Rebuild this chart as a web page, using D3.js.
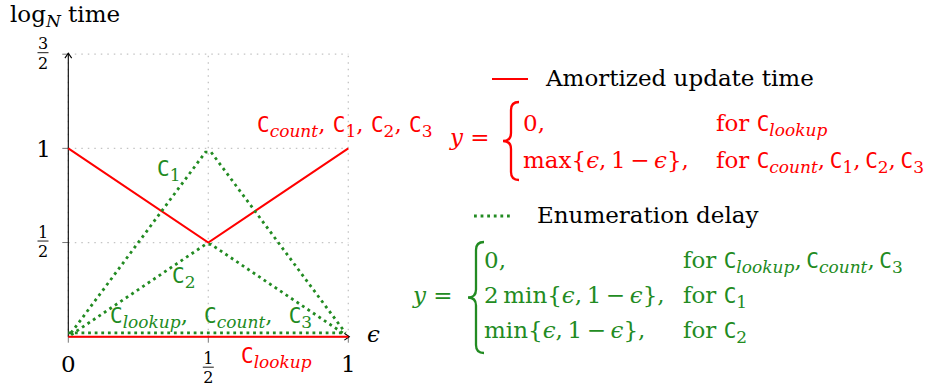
<!DOCTYPE html>
<html>
<head>
<meta charset="utf-8">
<script src="https://cdn.jsdelivr.net/npm/d3@7"></script>
<style>
  body { margin: 0; background: #fff; }
  text { font-family: "DejaVu Serif", serif; font-size: 23px; white-space: pre; }
</style>
</head>
<body>
<svg id="chart" width="941" height="392"></svg>
<script>
// values
const epsUpdate = [0, 0.5, 1];
const updateCount = [1, 0.5, 1];      // C_count, C1, C2, C3
const updateLookup = [0, 0, 0];       // C_lookup
const epsDelay = [0.01, 0.49, 0.51, 0.99];
const delayC1 = [0.02, 0.98, 0.98, 0.02];
const delayC2 = [0.01, 0.49, 0.49, 0.01];
const epsZero = [0, 0.99];
const delayZero = [0.02, 0.02];       // C_lookup, C_count, C3

const gridX = [0, 0.5, 1];
const gridY = [0.5, 1, 1.5];
const xTickLabels = [["0"], ["1", "2"], ["1"]];   // at 0, 1/2, 1
const yTickLabels = [["1", "2"], ["1"], ["3", "2"]]; // at 1/2, 1, 3/2

const updateClasses = ["C_{count}", "C_1", "C_2", "C_3"];
const zeroDelayClasses = ["C_{lookup}", "C_{count}", "C_3"];

const red = "#ff0000", green = "#228b22";
const mono = "'DejaVu Sans Mono', monospace";
const TH = "\u2009"; // thin space

const svg = d3.select("#chart");
const x = d3.scaleLinear().domain([0, 1]).range([68.3, 348.3]);
const y = d3.scaleLinear().domain([0, 1.5]).range([336.7, 54.2]);

// grid
svg.append("g").selectAll("line").data(gridX).join("line")
    .attr("x1", d => x(d)).attr("x2", d => x(d))
    .attr("y1", y(0)).attr("y2", y(1.5))
    .attr("stroke", "#c4c4c4").attr("stroke-width", 1.3).attr("stroke-dasharray", "1.5 5");
svg.append("g").selectAll("line").data(gridY).join("line")
    .attr("x1", x(0)).attr("x2", x(1))
    .attr("y1", d => y(d)).attr("y2", d => y(d))
    .attr("stroke", "#c4c4c4").attr("stroke-width", 1.3).attr("stroke-dasharray", "1.5 5");

// ticks
svg.append("g").selectAll("line").data(gridY).join("line")
    .attr("x1", x(0) - 6).attr("x2", x(0))
    .attr("y1", d => y(d)).attr("y2", d => y(d))
    .attr("stroke", "#777").attr("stroke-width", 1);
svg.append("g").selectAll("line").data([0, 0.5, 1]).join("line")
    .attr("x1", d => x(d)).attr("x2", d => x(d))
    .attr("y1", y(0)).attr("y2", y(0) + 6)
    .attr("stroke", "#777").attr("stroke-width", 1);

// axes with open arrow heads
function arrow(x1, y1, x2, y2) {
    svg.append("line").attr("x1", x1).attr("y1", y1).attr("x2", x2).attr("y2", y2)
        .attr("stroke", "#000").attr("stroke-width", 1.1);
    const a = Math.atan2(y2 - y1, x2 - x1), L = 6, w = 0.6;
    svg.append("path")
        .attr("d", `M${x2 - L * Math.cos(a - w)},${y2 - L * Math.sin(a - w)} L${x2},${y2} L${x2 - L * Math.cos(a + w)},${y2 - L * Math.sin(a + w)}`)
        .attr("fill", "none").attr("stroke", "#000").attr("stroke-width", 1.1);
}
arrow(x(0), y(0), x(1) + 1, y(0));
arrow(x(0), y(0), x(0), y(1.5) - 1);

// series
const line = d3.line();
function plot(xs, ys, color, dotted) {
    const p = svg.append("path")
        .attr("d", line(xs.map((v, i) => [x(v), y(ys[i])])))
        .attr("fill", "none").attr("stroke", color);
    if (dotted) p.attr("stroke-width", 2.8).attr("stroke-dasharray", "2.8 3.8");
    else p.attr("stroke-width", 2);
}
plot(epsUpdate, updateLookup, red, false);
plot(epsUpdate, updateCount, red, false);
plot(epsZero, delayZero, green, true);
plot(epsDelay, delayC1, green, true);
plot(epsDelay, delayC2, green, true);

// text with C_{sub} and $italic$ pieces
function rich(px, py, str, color, anchor) {
    const t = svg.append("text").attr("x", px).attr("y", py).attr("fill", color);
    if (anchor) t.attr("text-anchor", anchor);
    let shifted = false;
    str.split(/(C_\{\w+\}|C_\d|\$[^$]+\$|_\{\w+\})/).filter(s => s).forEach(s => {
        let pieces;
        if (s.startsWith("C_")) {
            const sub = s.replace(/^C_\{?/, "").replace("}", "");
            pieces = [["C", "tt"], [sub, /\d/.test(sub) ? "sub" : "subit"]];
        } else if (s.startsWith("_{")) {
            pieces = [[s.slice(2, -1), "subit"]];
        } else if (s.startsWith("$")) {
            pieces = [[s.slice(1, -1), "it"]];
        } else pieces = [[s, "rm"]];
        pieces.forEach(([txt, k]) => {
            const ts = t.append("tspan").text(txt);
            if (k === "tt") ts.style("font-family", mono).style("font-size", "21px");
            if (k === "it" || k === "subit") ts.style("font-style", "italic");
            if (k === "sub" || k === "subit") {
                ts.style("font-size", "17px");
                if (!shifted) { ts.attr("dy", 4.5); shifted = true; }
            } else if (shifted) { ts.attr("dy", -4.5); shifted = false; }
        });
    });
    return t;
}

function frac(cx, bar, num, den) {
    svg.append("line").attr("x1", cx - 5.5).attr("x2", cx + 5.5).attr("y1", bar).attr("y2", bar)
        .attr("stroke", "#000").attr("stroke-width", 0.9);
    svg.append("text").attr("x", cx).attr("y", bar - 3.5).attr("text-anchor", "middle")
        .style("font-size", "16px").text(num);
    svg.append("text").attr("x", cx).attr("y", bar + 16).attr("text-anchor", "middle")
        .style("font-size", "16px").text(den);
}

// axis titles
rich(10, 22, "log_{N} time", "#000");
rich(367, 342, "$ϵ$", "#000");

// tick labels
[0, 0.5, 1].forEach((v, i) => {
    const l = xTickLabels[i];
    if (l.length === 1) svg.append("text").attr("x", x(v)).attr("y", 372).attr("text-anchor", "middle").text(l[0]);
    else frac(x(v), y(0) + 30.5, l[0], l[1]);
});
[0.5, 1, 1.5].forEach((v, i) => {
    const l = yTickLabels[i];
    if (l.length === 1) svg.append("text").attr("x", 51).attr("y", y(v) + 8.5).attr("text-anchor", "end").text(l[0]);
    else frac(43, y(v) - 1.5, l[0], l[1]);
});

// curve labels
rich(257, 132, updateClasses.join(", "), red);
rich(157, 176, "C_1", green);
rich(172, 283, "C_2", green);
rich(110, 323, zeroDelayClasses.join(",\u2002" + TH), green);
rich(241, 363, "C_{lookup}", red);

// curly brace
function brace(xr, top, bot, color) {
    const xm = xr - 8, xt = xr - 16, mid = (top + bot) / 2, r = 8;
    svg.append("path")
        .attr("d", `M${xr},${top} Q${xm},${top} ${xm},${top + r} L${xm},${mid - r} Q${xm},${mid} ${xt},${mid}` +
            ` Q${xm},${mid} ${xm},${mid + r} L${xm},${bot - r} Q${xm},${bot} ${xr},${bot}`)
        .attr("fill", "none").attr("stroke", color).attr("stroke-width", 2.3);
}

const minTerm = `{$ϵ$,${TH}1${TH}−${TH}$ϵ$},`;

// legend: amortized update time
svg.append("line").attr("x1", 492).attr("x2", 528).attr("y1", 79).attr("y2", 79)
    .attr("stroke", red).attr("stroke-width", 2);
rich(546, 86, "Amortized update time", "#000");
rich(450, 145, "$y$ =", red);
brace(519, 102, 180, red);
rich(523, 131, "0,", red);
rich(716, 131, "for C_{lookup}", red);
rich(523, 168, "max" + minTerm, red);
rich(716, 168, "for " + updateClasses.join("," + TH), red);

// legend: enumeration delay
svg.append("line").attr("x1", 474).attr("x2", 512).attr("y1", 216).attr("y2", 216)
    .attr("stroke", green).attr("stroke-width", 2.8).attr("stroke-dasharray", "2.8 3.8");
rich(537, 223, "Enumeration delay", "#000");
rich(413, 303, "$y$ =", green);
brace(484, 242, 353, green);
rich(484, 268, "0,", green);
rich(683, 268, "for " + zeroDelayClasses.join("," + TH), green);
rich(484, 303, "2" + TH + "min" + minTerm, green);
rich(683, 303, "for C_1", green);
rich(484, 338, "min" + minTerm, green);
rich(683, 338, "for C_2", green);
</script>
</body>
</html>
